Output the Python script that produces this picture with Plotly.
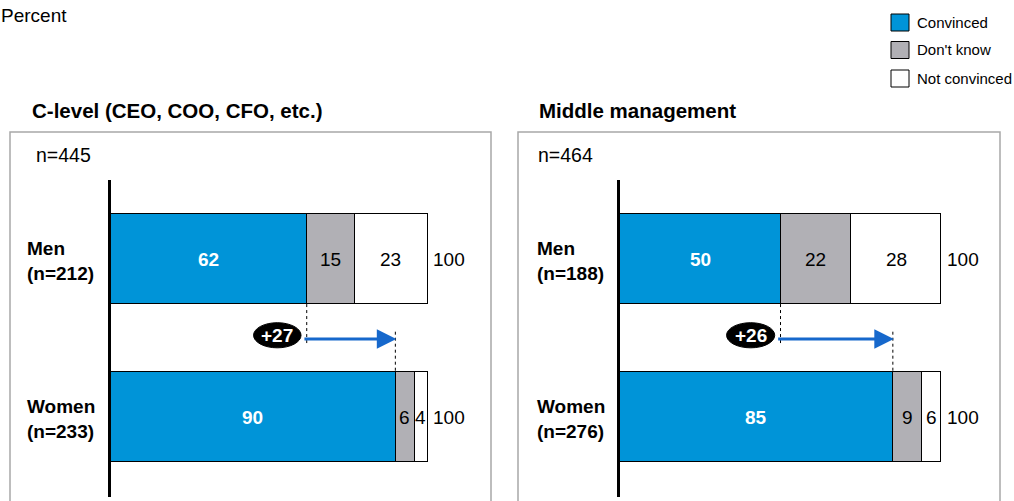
import plotly.graph_objects as go

W, H = 1014, 501

# ---- data ----
panels = ["C-level (CEO, COO, CFO, etc.)", "Middle management"]
panel_n = ["n=445", "n=464"]
groups = ["Men", "Women"]
group_n = [["212", "233"], ["188", "276"]]
series = ["Convinced", "Don't know", "Not convinced"]
convinced = [[62, 90], [50, 85]]
dont_know = [[15, 6], [22, 9]]
not_convinced = [[23, 4], [28, 6]]
totals = [[100, 100], [100, 100]]
diff_labels = ["+27", "+26"]

colors = {"Convinced": "#0094D8", "Don't know": "#B1B0B5", "Not convinced": "#FFFFFF"}
text_colors = {"Convinced": "white", "Don't know": "black", "Not convinced": "black"}
FONT = "Liberation Sans, Arial, sans-serif"

def px(x):
    return x / W

def py(y):
    return 1 - y / H

XMAX = 100.6
# panel layout (pixels): zero position and px-per-unit
x_zero = [110.5, 620]
x_scale = [3.165, 3.21]
box_x = [(10, 491), (518, 1000)]
label_x = [25, 535]
title_x = [30, 537]
n_x = [34, 536]

fig = go.Figure()

yr = [1.506, -0.5]
ydom = [py(497), py(180)]

for p in range(2):
    xa = "x" if p == 0 else "x2"
    ya = "y" if p == 0 else "y2"
    vals = [convinced[p], dont_know[p], not_convinced[p]]
    for s, v in zip(series, vals):
        fig.add_trace(go.Bar(
            y=groups, x=v, orientation="h", name=s,
            marker=dict(color=colors[s], line=dict(color="black", width=1)),
            width=0.57, xaxis=xa, yaxis=ya, showlegend=False,
            textposition="none", hoverinfo="skip",
        ))
    # segment labels
    for gi, g in enumerate(groups):
        cum = 0
        for s, v in zip(series, vals):
            val = v[gi]
            fig.add_annotation(
                x=cum + val / 2, y=g, xref=xa, yref=ya, yanchor="middle",
                text=f"<b>{val}</b>" if s == "Convinced" else str(val),
                showarrow=False, font=dict(family=FONT, size=19, color=text_colors[s]),
            )
            cum += val
        fig.add_annotation(
            x=totals[p][gi], y=g, xref=xa, yref=ya, text=str(totals[p][gi]),
            showarrow=False, xanchor="left", yanchor="middle", xshift=4,
            font=dict(family=FONT, size=19, color="black"),
        )
        # row labels
        fig.add_annotation(
            x=px(label_x[p]), y=py(261 + 158 * gi), xref="paper", yref="paper",
            text=f"<b>{g}<br>(n={group_n[p][gi]})</b>", showarrow=False,
            xanchor="left", yanchor="middle", align="left",
            font=dict(family=FONT, size=19, color="black"),
        )
    # difference arrow
    m, w = convinced[p][0], convinced[p][1]
    fig.add_shape(type="line", xref=xa, yref=ya, x0=m, x1=m, y0=0.285, y1=0.545,
                  line=dict(color="black", width=1, dash="dot"))
    fig.add_shape(type="line", xref=xa, yref=ya, x0=w, x1=w, y0=0.46, y1=0.715,
                  line=dict(color="black", width=1, dash="dot"))
    fig.add_annotation(x=w + 0.3, y=0.506, ax=m - 1.2, ay=0.506, xref=xa, yref=ya,
                       axref=xa, ayref=ya, text="", showarrow=True,
                       arrowhead=2, arrowsize=1.3, arrowwidth=3, arrowcolor="#1668CC")
    bc = m - 9.3
    fig.add_shape(type="circle", xref=xa, yref=ya, x0=bc - 7.5, x1=bc + 7.5,
                  y0=0.403, y1=0.562, fillcolor="black", line=dict(color="black", width=1))
    fig.add_annotation(x=bc, y=0.485, xref=xa, yref=ya, yanchor="middle",
                       text=f"<b>{diff_labels[p]}</b>",
                       showarrow=False, font=dict(family=FONT, size=19, color="white"))
    # panel box
    fig.add_shape(type="rect", xref="paper", yref="paper",
                  x0=px(box_x[p][0]), x1=px(box_x[p][1]), y0=py(520), y1=py(132),
                  line=dict(color="#A8A8A8", width=1.5), fillcolor="rgba(0,0,0,0)", layer="below")
    fig.add_annotation(x=px(title_x[p]), y=py(110), xref="paper", yref="paper",
                       text=f"<b>{panels[p]}</b>", showarrow=False,
                       xanchor="left", yanchor="middle",
                       font=dict(family=FONT, size=20.5, color="black"))
    fig.add_annotation(x=px(n_x[p]), y=py(155), xref="paper", yref="paper",
                       text=panel_n[p], showarrow=False, xanchor="left", yanchor="middle",
                       font=dict(family=FONT, size=19.5, color="black"))

# "Percent"
fig.add_annotation(x=0, y=py(15), xref="paper", yref="paper", text="Percent",
                   showarrow=False, xanchor="left", yanchor="middle", xshift=-1,
                   font=dict(family=FONT, size=19, color="black"))

# legend
leg_y = [22.5, 50, 78.5]
for s, yc in zip(series, leg_y):
    fig.add_shape(type="rect", xref="paper", yref="paper",
                  x0=px(891), x1=px(909), y0=py(yc + 8.5), y1=py(yc - 8.5),
                  fillcolor=colors[s], line=dict(color="black", width=1))
    fig.add_annotation(x=px(915), y=py(yc), xref="paper", yref="paper", text=s,
                       showarrow=False, xanchor="left", yanchor="middle",
                       font=dict(family=FONT, size=15, color="black"))

axis_common = dict(range=[0, XMAX], showgrid=False, zeroline=False, showticklabels=False,
                   ticks="", showline=False, fixedrange=True)
yaxis_common = dict(range=yr, domain=ydom, showgrid=False, zeroline=False,
                    showticklabels=False, ticks="", showline=True, linecolor="black",
                    linewidth=3, type="category", fixedrange=True)

doms = [[px(x_zero[i]), px(x_zero[i] + XMAX * x_scale[i])] for i in range(2)]

fig.update_layout(
    width=W, height=H, margin=dict(l=0, r=0, t=0, b=0),
    paper_bgcolor="white", plot_bgcolor="rgba(0,0,0,0)",
    barmode="stack", bargap=0,
    xaxis=dict(domain=doms[0], anchor="y", **axis_common),
    xaxis2=dict(domain=doms[1], anchor="y2", **axis_common),
    yaxis=dict(anchor="x", **yaxis_common),
    yaxis2=dict(anchor="x2", **yaxis_common),
    font=dict(family=FONT),
)

fig.write_html("out.html", config={"displayModeBar": False},
               post_script="document.body.style.margin='0px';")
